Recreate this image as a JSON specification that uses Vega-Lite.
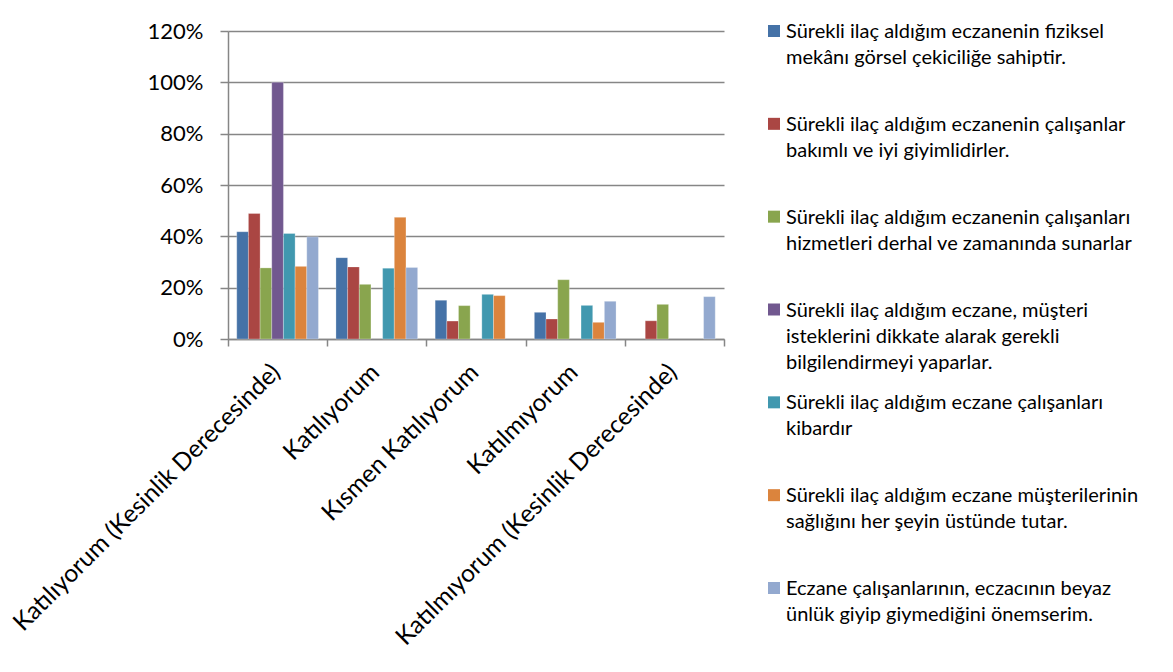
{
  "$schema": "https://vega.github.io/schema/vega-lite/v6.json",
  "autosize": {"type": "pad"},
  "padding": {"left": 8, "top": 20, "right": 0, "bottom": 0},
  "background": "white",
  "bounds": "flush",
  "spacing": 44,
  "datasets": {
    "bars": [
      {"cat": "Katılıyorum (Kesinlik Derecesinde)", "k": 1, "v": 0.418},
      {"cat": "Katılıyorum (Kesinlik Derecesinde)", "k": 2, "v": 0.489},
      {"cat": "Katılıyorum (Kesinlik Derecesinde)", "k": 3, "v": 0.277},
      {"cat": "Katılıyorum (Kesinlik Derecesinde)", "k": 4, "v": 1.0},
      {"cat": "Katılıyorum (Kesinlik Derecesinde)", "k": 5, "v": 0.411},
      {"cat": "Katılıyorum (Kesinlik Derecesinde)", "k": 6, "v": 0.283},
      {"cat": "Katılıyorum (Kesinlik Derecesinde)", "k": 7, "v": 0.398},
      {"cat": "Katılıyorum", "k": 1, "v": 0.317},
      {"cat": "Katılıyorum", "k": 2, "v": 0.281},
      {"cat": "Katılıyorum", "k": 3, "v": 0.213},
      {"cat": "Katılıyorum", "k": 5, "v": 0.276},
      {"cat": "Katılıyorum", "k": 6, "v": 0.474},
      {"cat": "Katılıyorum", "k": 7, "v": 0.279},
      {"cat": "Kısmen Katılıyorum", "k": 1, "v": 0.151},
      {"cat": "Kısmen Katılıyorum", "k": 2, "v": 0.070},
      {"cat": "Kısmen Katılıyorum", "k": 3, "v": 0.130},
      {"cat": "Kısmen Katılıyorum", "k": 5, "v": 0.174},
      {"cat": "Kısmen Katılıyorum", "k": 6, "v": 0.169},
      {"cat": "Katılmıyorum", "k": 1, "v": 0.104},
      {"cat": "Katılmıyorum", "k": 2, "v": 0.078},
      {"cat": "Katılmıyorum", "k": 3, "v": 0.231},
      {"cat": "Katılmıyorum", "k": 5, "v": 0.131},
      {"cat": "Katılmıyorum", "k": 6, "v": 0.065},
      {"cat": "Katılmıyorum", "k": 7, "v": 0.147},
      {"cat": "Katılmıyorum (Kesinlik Derecesinde)", "k": 2, "v": 0.071},
      {"cat": "Katılmıyorum (Kesinlik Derecesinde)", "k": 3, "v": 0.135},
      {"cat": "Katılmıyorum (Kesinlik Derecesinde)", "k": 7, "v": 0.165}
    ],
    "series": [
      {"k": 1, "label": "Sürekli ilaç aldığım eczanenin fiziksel|mekânı görsel çekiciliğe sahiptir."},
      {"k": 2, "label": "Sürekli ilaç aldığım eczanenin çalışanlar|bakımlı ve iyi giyimlidirler."},
      {"k": 3, "label": "Sürekli ilaç aldığım eczanenin çalışanları|hizmetleri derhal ve zamanında sunarlar"},
      {"k": 4, "label": "Sürekli ilaç aldığım eczane, müşteri|isteklerini dikkate alarak gerekli|bilgilendirmeyi yaparlar."},
      {"k": 5, "label": "Sürekli ilaç aldığım eczane çalışanları|kibardır"},
      {"k": 6, "label": "Sürekli ilaç aldığım eczane müşterilerinin|sağlığını her şeyin üstünde tutar."},
      {"k": 7, "label": "Eczane çalışanlarının, eczacının beyaz|ünlük giyip giymediğini önemserim."}
    ]
  },
  "hconcat": [
    {
      "width": 496,
      "height": 308,
      "data": {"name": "bars"},
      "mark": {"type": "bar", "stroke": "white", "strokeOpacity": 0.45, "strokeWidth": 0.6},
      "encoding": {
        "x": {
          "field": "cat",
          "type": "nominal",
          "sort": ["Katılıyorum (Kesinlik Derecesinde)", "Katılıyorum", "Kısmen Katılıyorum", "Katılmıyorum", "Katılmıyorum (Kesinlik Derecesinde)"],
          "scale": {"paddingInner": 0, "paddingOuter": 0},
          "axis": {
            "title": null,
            "tickBand": "extent",
            "labelAngle": -45,
            "labelFontSize": 24.5,
            "labelColor": "black",
            "labelPadding": 14,
            "labelOffset": -10,
            "labelLimit": 600,
            "domainColor": "#868686",
            "domainWidth": 1.5,
            "tickColor": "#868686",
            "tickWidth": 1.5,
            "tickSize": 7
          }
        },
        "xOffset": {
          "field": "k",
          "type": "ordinal",
          "scale": {"domain": [1, 2, 3, 4, 5, 6, 7], "paddingInner": 0, "paddingOuter": 0.75}
        },
        "y": {
          "field": "v",
          "type": "quantitative",
          "scale": {"domain": [0, 1.2], "nice": false},
          "axis": {
            "title": null,
            "format": ".0%",
            "values": [0, 0.2, 0.4, 0.6, 0.8, 1.0, 1.2],
            "labelFontSize": 22,
            "labelColor": "black",
            "labelPadding": 17,
            "grid": true,
            "gridColor": "#868686",
            "gridWidth": 1.5,
            "domainColor": "#868686",
            "domainWidth": 1.5,
            "tickColor": "#868686",
            "tickWidth": 1.5,
            "tickSize": 8
          }
        },
        "color": {
          "field": "k",
          "type": "nominal",
          "scale": {"domain": [1, 2, 3, 4, 5, 6, 7], "range": ["#4572A7", "#AA4643", "#89A54E", "#71588F", "#4198AF", "#DB843D", "#93A9CF"]},
          "legend": null
        }
      }
    },
    {
      "width": 12,
      "height": 557,
      "data": {"name": "series"},
      "encoding": {
        "y": {"field": "k", "type": "ordinal", "scale": {"type": "point", "padding": 0}, "axis": null}
      },
      "layer": [
        {
          "mark": {"type": "square", "size": 144, "opacity": 1},
          "encoding": {
            "color": {"field": "k", "type": "nominal", "legend": null}
          }
        },
        {
          "mark": {"type": "text", "align": "left", "baseline": "alphabetic", "dx": 12, "dy": 7, "fontSize": 20, "lineHeight": 26, "lineBreak": "|", "color": "black"},
          "encoding": {
            "text": {"field": "label"}
          }
        }
      ]
    }
  ],
  "config": {
    "font": "Lato",
    "view": {"stroke": null}
  }
}
